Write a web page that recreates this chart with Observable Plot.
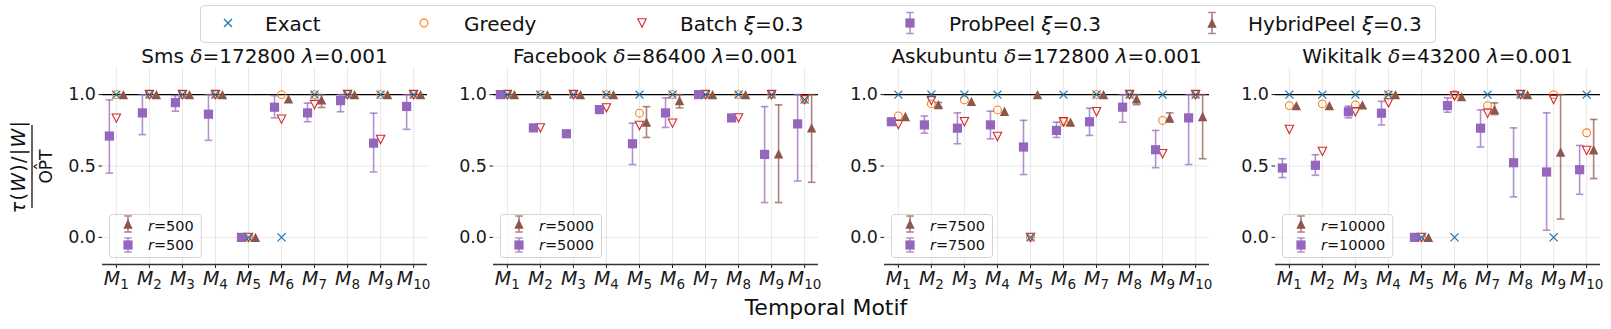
<!DOCTYPE html>
<html><head><meta charset="utf-8">
<script src="https://cdn.jsdelivr.net/npm/d3@7"></script>
<script src="https://cdn.jsdelivr.net/npm/@observablehq/plot@0.6"></script>
<style>
body{margin:0;background:#fff;font-family:"DejaVu Sans",sans-serif;}
#root{position:relative;width:1611px;height:329px;overflow:hidden;background:#fff}
#root svg.panel{position:absolute;top:40px}
#overlay{position:absolute;left:0;top:0;pointer-events:none}
</style></head><body><div id="root"></div>
<script>
// ---------- data ----------
const motifIndex = [1, 2, 3, 4, 5, 6, 7, 8, 9, 10];
const motifLabels = ["M1","M2","M3","M4","M5","M6","M7","M8","M9","M10"];
const yTicks = [0, 0.5, 1.0];
const datasetNames = ["Sms", "Facebook", "Askubuntu", "Wikitalk"];
const deltas = [172800, 86400, 172800, 43200];
const lambdas = [0.001, 0.001, 0.001, 0.001];
const rValues = [500, 5000, 7500, 10000];
const seriesNames = ["Exact", "Greedy", "Batch", "ProbPeel", "HybridPeel"];
const xi = 0.3;

// Sms
const smsExact   = [1, 1, 1, 1, 0, 0, 1, 1, 1, 1];
const smsGreedy  = [1, 1, 1, 1, 0, 1, 1, 1, 1, 1];
const smsBatch   = [0.835, 1, 1, 1, 0, 0.828, 0.93, 1, 0.686, 1];
const smsProb    = [0.71, 0.872, 0.944, 0.863, 0, 0.912, 0.872, 0.958, 0.66, 0.917];
const smsProbLo  = [0.45, 0.72, 0.884, 0.68, 0, 0.837, 0.81, 0.88, 0.458, 0.757];
const smsProbHi  = [0.963, 1.0, 0.993, 1.0, 0, 0.993, 0.94, 1.0, 0.87, 1.0];
const smsHyb     = [1, 1, 1, 1, 0, 0.97, 0.963, 1, 1, 1];
const smsHybLo   = [1, 1, 1, 1, 0, 0.97, 0.91, 1, 1, 1];
const smsHybHi   = [1, 1, 1, 1, 0, 0.97, 1.0, 1, 1, 1];
// Facebook
const fbExact    = [1, 1, 1, 1, 1, 1, 1, 1, 1, 0.965];
const fbGreedy   = [1, 1, 1, 1, 0.87, 1, 1, 1, 1, 0.965];
const fbBatch    = [1, 0.767, 1, 0.907, 0.784, 0.80, 1, 0.837, 1, 0.965];
const fbProb     = [1, 0.767, 0.726, 0.895, 0.656, 0.872, 1, 0.837, 0.581, 0.795];
const fbProbLo   = [1, 0.767, 0.726, 0.895, 0.51, 0.77, 1, 0.837, 0.244, 0.395];
const fbProbHi   = [1, 0.767, 0.726, 0.895, 0.80, 0.977, 1, 0.837, 0.916, 1.0];
const fbHyb      = [1, 1, 1, 1, 0.807, 0.958, 1, 1, 0.586, 0.767];
const fbHybLo    = [1, 1, 1, 1, 0.70, 0.907, 1, 1, 0.244, 0.386];
const fbHybHi    = [1, 1, 1, 1, 0.916, 1.0, 1, 1, 0.928, 1.0];
// Askubuntu
const auExact    = [1, 1, 1, 1, 0, 1, 1, 1, 1, 1];
const auGreedy   = [0.851, 0.935, 0.963, 0.893, 0, 0.81, 1, 1, 0.819, 1];
const auBatch    = [0.79, 0.958, 0.81, 0.707, 0, 0.81, 0.88, 1, 0.586, 1];
const auProb     = [0.81, 0.788, 0.765, 0.788, 0.633, 0.749, 0.81, 0.912, 0.614, 0.837];
const auProbLo   = [0.80, 0.73, 0.656, 0.69, 0.44, 0.70, 0.714, 0.807, 0.488, 0.51];
const auProbHi   = [0.83, 0.85, 0.872, 0.884, 0.82, 0.807, 0.905, 1.0, 0.749, 1.0];
const auHyb      = [0.847, 0.93, 0.953, 0.884, 1.0, 0.807, 1, 0.97, 0.837, 0.847];
const auHybLo    = [0.847, 0.915, 0.953, 0.884, 1, 0.807, 1, 0.93, 0.807, 0.551];
const auHybHi    = [0.847, 0.945, 0.953, 0.884, 1, 0.807, 1, 1.0, 0.872, 1.0];
// Wikitalk
const wkExact    = [1, 1, 1, 1, 0, 0, 1, 1, 0, 1];
const wkGreedy   = [0.923, 0.935, 0.928, 1, 0, 1, 0.923, 1, 1, 0.733];
const wkBatch    = [0.756, 0.602, 0.88, 0.942, 0, 0.99, 0.87, 1, 0.965, 0.609];
const wkProb     = [0.486, 0.505, 0.88, 0.87, 0, 0.923, 0.765, 0.523, 0.458, 0.474];
const wkProbLo   = [0.419, 0.435, 0.837, 0.788, 0, 0.877, 0.633, 0.284, 0.05, 0.302];
const wkProbHi   = [0.551, 0.579, 0.919, 0.953, 0, 0.977, 0.893, 0.767, 0.872, 0.644];
const wkHyb      = [0.923, 0.923, 0.928, 1, 0, 0.986, 0.895, 1, 0.598, 0.614];
const wkHybLo    = [0.923, 0.923, 0.928, 1, 0, 0.986, 0.86, 1, 0.128, 0.412];
const wkHybHi    = [0.923, 0.923, 0.928, 1, 0, 0.986, 0.942, 1, 1.0, 0.826];

const panelsData = [
  [smsExact, smsGreedy, smsBatch, smsProb, smsProbLo, smsProbHi, smsHyb, smsHybLo, smsHybHi],
  [fbExact, fbGreedy, fbBatch, fbProb, fbProbLo, fbProbHi, fbHyb, fbHybLo, fbHybHi],
  [auExact, auGreedy, auBatch, auProb, auProbLo, auProbHi, auHyb, auHybLo, auHybHi],
  [wkExact, wkGreedy, wkBatch, wkProb, wkProbLo, wkProbHi, wkHyb, wkHybLo, wkHybHi]
];

// ---------- style ----------
const C = {blue:"#1f77b4", orange:"#ff7f0e", red:"#d62728", purple:"#9467bd", brown:"#8c564b"};
const xDomain = [0.58, 10.42];
const yDomain = [-0.19, 1.19];
const W = 376, H = 254, ML = 45, MR = 6, MT = 27, MB = 30, STEP = 391;

const hw = s => Math.sqrt(s / Math.PI);
const symTimes = {draw(c, s){const r = hw(s); c.moveTo(-r,-r); c.lineTo(r,r); c.moveTo(-r,r); c.lineTo(r,-r);}};
const symTriUp = {draw(c, s){const r = hw(s); c.moveTo(0,-r); c.lineTo(r,r); c.lineTo(-r,r); c.closePath();}};
const symTriDown = {draw(c, s){const r = hw(s); c.moveTo(0,r); c.lineTo(r,-r); c.lineTo(-r,-r); c.closePath();}};
const symSquare = {draw(c, s){const r = hw(s); c.moveTo(-r,-r); c.lineTo(r,-r); c.lineTo(r,r); c.lineTo(-r,r); c.closePath();}};
const symCap = {draw(c, s){const r = hw(s); c.moveTo(-r,0); c.lineTo(r,0);}};

const root = document.getElementById("root");
const NS = "http://www.w3.org/2000/svg";

panelsData.forEach((arr, p) => {
  const [ex, gr, ba, pr, prLo, prHi, hy, hyLo, hyHi] = arr;
  const rows = motifIndex.map((m, i) => ({m, ex: ex[i], gr: gr[i], ba: ba[i], pr: pr[i], prLo: prLo[i], prHi: prHi[i], hy: hy[i], hyLo: hyLo[i], hyHi: hyHi[i]}));
  const errP = rows.filter(d => d.prHi - d.prLo > 0.004);
  const errH = rows.filter(d => d.hyHi - d.hyLo > 0.004);
  const errOpts = (col, dx) => ({stroke: col, strokeOpacity: 0.72, strokeWidth: 1.6, dx});
  const chart = Plot.plot({
    width: W, height: H, marginLeft: ML, marginRight: MR, marginTop: MT, marginBottom: MB,
    style: {fontFamily: "DejaVu Sans", fontSize: "17.5px", color: "#1a1a1a", background: "transparent", overflow: "visible"},
    x: {domain: xDomain, ticks: motifIndex, tickFormat: i => motifLabels[i - 1], grid: true, tickSize: 4, tickPadding: 3, label: null},
    y: {domain: yDomain, ticks: yTicks, tickFormat: d3.format(".1f"), grid: true, tickSize: 3.5, tickPadding: 3, label: null},
    marks: [
      Plot.ruleY([1], {stroke: "#000", strokeWidth: 1.3}),
      Plot.ruleY([yDomain[0]], {stroke: "#333", strokeWidth: 1.7}),
      Plot.dot(rows, {x: "m", y: "gr", symbol: "circle", r: 3.9, stroke: C.orange, fill: "none", strokeWidth: 1.1}),
      Plot.dot(rows, {x: "m", y: "ba", symbol: symTriDown, r: 4.2, stroke: C.red, fill: "none", strokeWidth: 1.1}),
      Plot.ruleX(errP, {x: "m", y1: "prLo", y2: "prHi", ...errOpts(C.purple, -7)}),
      Plot.dot(errP, {x: "m", y: "prLo", symbol: symCap, r: 3.8, fill: "none", ...errOpts(C.purple, -7)}),
      Plot.dot(errP, {x: "m", y: "prHi", symbol: symCap, r: 3.8, fill: "none", ...errOpts(C.purple, -7)}),
      Plot.dot(rows, {x: "m", y: "pr", dx: -7, symbol: symSquare, r: 4.6, fill: C.purple, stroke: "none"}),
      Plot.ruleX(errH, {x: "m", y1: "hyLo", y2: "hyHi", ...errOpts(C.brown, 7)}),
      Plot.dot(errH, {x: "m", y: "hyLo", symbol: symCap, r: 3.8, fill: "none", ...errOpts(C.brown, 7)}),
      Plot.dot(errH, {x: "m", y: "hyHi", symbol: symCap, r: 3.8, fill: "none", ...errOpts(C.brown, 7)}),
      Plot.dot(rows, {x: "m", y: "hy", dx: 7, symbol: symTriUp, r: 4.7, fill: C.brown, stroke: "none"}),
      Plot.dot(rows, {x: "m", y: "ex", symbol: symTimes, r: 4, stroke: C.blue, fill: "none", strokeWidth: 1.3})
    ]
  });
  const svg = chart.tagName.toLowerCase() === "svg" ? chart : chart.querySelector("svg");
  svg.classList.add("panel");
  svg.style.left = (102 - ML + STEP * p) + "px";
  svg.style.position = "absolute";
  svg.style.top = "40px";
  // italic M with subscript index for x tick labels
  svg.querySelectorAll("text").forEach(t => {
    const s = t.textContent;
    const m = /^M(\d+)$/.exec(s);
    if (!m) return;
    t.textContent = "";
    t.setAttribute("font-size", "19px");
    const a = document.createElementNS(NS, "tspan");
    a.setAttribute("font-style", "italic"); a.textContent = "M";
    const b = document.createElementNS(NS, "tspan");
    b.setAttribute("font-size", "13.5px"); b.setAttribute("dy", "0.3em"); b.textContent = m[1];
    t.appendChild(a); t.appendChild(b);
  });
  root.appendChild(svg);
});

// ---------- overlay: titles, legends, axis labels ----------
let o = `<svg id="overlay" xmlns="${NS}" width="1611" height="329" font-family="DejaVu Sans" fill="#111">`;
// top legend
o += `<rect x="200.5" y="5.5" width="1235" height="37" rx="4" fill="#fff" stroke="#d4d4d4"/>`;
const ly = 23;
o += `<path d="M224,${ly-4}L232,${ly+4}M224,${ly+4}L232,${ly-4}" stroke="${C.blue}" stroke-width="1.3" fill="none"/>`;
o += `<circle cx="424" cy="${ly}" r="3.9" stroke="${C.orange}" stroke-width="1.1" fill="none"/>`;
o += `<path d="M642,${ly+4.2}L646.2,${ly-4.2}L637.8,${ly-4.2}Z" stroke="${C.red}" stroke-width="1.1" fill="none"/>`;
const errIcon = (cx, cy, col, half, cap) =>
  `<g stroke="${col}" stroke-opacity="0.72" stroke-width="1.6" fill="none"><path d="M${cx},${cy-half}L${cx},${cy+half}M${cx-cap},${cy-half}L${cx+cap},${cy-half}M${cx-cap},${cy+half}L${cx+cap},${cy+half}"/></g>`;
o += errIcon(910, ly, C.purple, 10.5, 3.8);
o += `<rect x="${910-4.6}" y="${ly-4.6}" width="9.2" height="9.2" fill="${C.purple}"/>`;
o += errIcon(1212, ly, C.brown, 10.5, 3.8);
o += `<path d="M1212,${ly-4.7}L1216.7,${ly+4.7}L1207.3,${ly+4.7}Z" fill="${C.brown}"/>`;
const legTxt = [
  [265, seriesNames[0]], [464, seriesNames[1]],
  [680, `${seriesNames[2]} <tspan font-style="italic">ξ</tspan>=${xi}`],
  [949, `${seriesNames[3]} <tspan font-style="italic">ξ</tspan>=${xi}`],
  [1248, `${seriesNames[4]} <tspan font-style="italic">ξ</tspan>=${xi}`]
];
legTxt.forEach(([x, t]) => { o += `<text x="${x}" y="31" font-size="20">${t}</text>`; });

datasetNames.forEach((name, p) => {
  const off = STEP * p;
  const cx = 102 + 325 / 2 + off;
  o += `<text x="${cx}" y="63" font-size="20" text-anchor="middle">${name} <tspan font-style="italic">δ</tspan>=${deltas[p]} <tspan font-style="italic">λ</tspan>=${lambdas[p]}</text>`;
  // panel legend
  const rs = String(rValues[p]);
  const wBox = 39 + 14.5 * (0.411 + 0.838 + 0.636 * rs.length) + 7;
  const bx = 109 + off;
  o += `<rect x="${bx+0.5}" y="214.5" width="${wBox}" height="43" rx="3" fill="#fff" fill-opacity="0.8" stroke="#d4d4d4"/>`;
  const ix = 128 + off;
  o += errIcon(ix, 224, C.brown, 8, 3.8);
  o += `<path d="M${ix},${224-4.7}L${ix+4.7},${224+4.7}L${ix-4.7},${224+4.7}Z" fill="${C.brown}"/>`;
  o += errIcon(ix, 245, C.purple, 7, 3.8);
  o += `<rect x="${ix-4.6}" y="${245-4.6}" width="9.2" height="9.2" fill="${C.purple}"/>`;
  o += `<text x="${148+off}" y="231" font-size="14.5"><tspan font-style="italic">r</tspan>=${rs}</text>`;
  o += `<text x="${148+off}" y="250" font-size="14.5"><tspan font-style="italic">r</tspan>=${rs}</text>`;
});

// x label
o += `<text x="826" y="315" font-size="22" text-anchor="middle">Temporal Motif</text>`;
// y label (fraction)
o += `<g transform="translate(32,166.5) rotate(-90)">
  <text y="-7" text-anchor="middle" font-size="19" letter-spacing="1.3"><tspan font-style="italic">τ</tspan>(<tspan font-style="italic">W</tspan>)/|<tspan font-style="italic">W</tspan>|</text>
  <line x1="-41.5" x2="41.5" y1="0" y2="0" stroke="#111" stroke-width="1.3"/>
  <text y="20" text-anchor="middle" font-size="17">OPT</text>
  <text y="15.5" text-anchor="middle" font-size="17">ˆ</text>
</g>`;
o += `</svg>`;
root.insertAdjacentHTML("beforeend", o);
</script>
</body></html>
